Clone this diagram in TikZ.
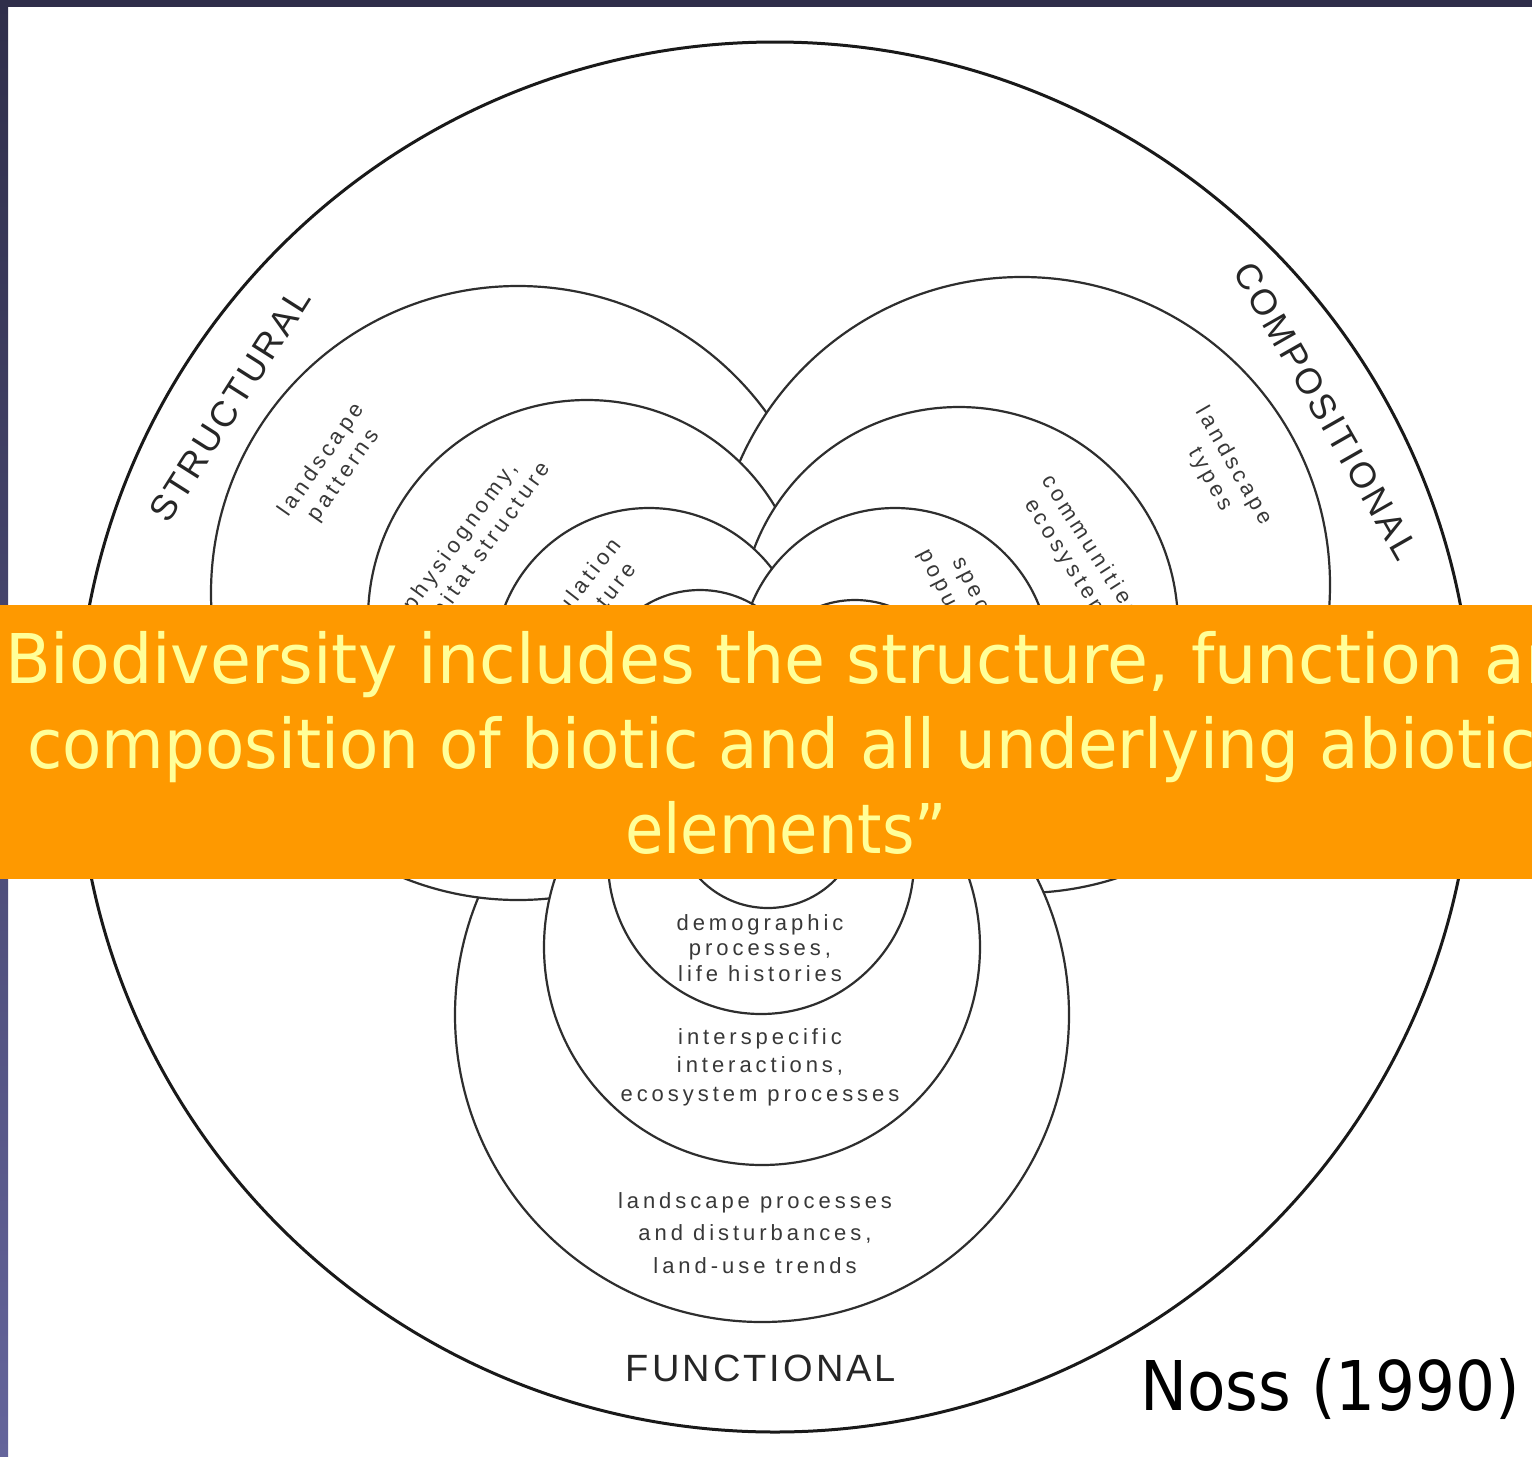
\documentclass[tikz,border=0pt]{standalone}
\usepackage{graphicx}
\usepackage{fontspec}
\setmainfont{Liberation Sans}
\newfontfamily\bannerfont{DejaVu Sans}
\newfontfamily\ringfont[LetterSpace=8]{Liberation Sans}
\newfontfamily\smallfont[LetterSpace=18]{Liberation Sans}
\newfontfamily\nossfont{DejaVu Sans}
\definecolor{band}{RGB}{47,46,74}
\definecolor{bandlight}{RGB}{100,100,155}
\definecolor{bannerorange}{RGB}{254,153,0}
\definecolor{banneryellow}{RGB}{255,255,153}
\newcommand{\outsidecirc}[2]{\clip (-300,-300) rectangle (1900,1800) (#1) circle[radius=#2];}
\begin{document}
\begin{tikzpicture}[x=1pt,y=-1pt,
  ring/.style={line width=2.2pt, draw=black!82},
  outerring/.style={line width=3pt, draw=black!90},
  lab/.style={font={\ringfont\fontsize{#1}{40}\selectfont}, text=black!85, inner sep=0},
  lab/.default=36,
  small/.style={font={\smallfont\fontsize{22}{#1}\selectfont}, text=black!78, align=center, inner sep=0},
  small/.default=27,
  bannertext/.style={font={\bannerfont\fontsize{68.6}{80}\selectfont}, text=banneryellow, anchor=base west, inner sep=0},
]
\useasboundingbox (0,0) rectangle (1532,1457);
\fill[white] (0,0) rectangle (1532,1457);

% circle centres
\coordinate (O) at (775,737);
\coordinate (S1) at (518,593);
\coordinate (S2) at (587,619);
\coordinate (S3) at (649,663);
\coordinate (S4) at (700,695);
\coordinate (C1) at (1022,585);
\coordinate (C2) at (959,626);
\coordinate (C3) at (895,663);
\coordinate (C4) at (855,700);
\coordinate (F1) at (762,1015);
\coordinate (F2) at (762,947);
\coordinate (F3) at (761,861);
\coordinate (F4) at (768,814);

% structural circles
\begin{scope}[even odd rule]\outsidecirc{C1}{308}\outsidecirc{F2}{218}\draw[ring] (S1) circle[radius=307];\end{scope}
\begin{scope}[even odd rule]\outsidecirc{C2}{219}\outsidecirc{F3}{153}\draw[ring] (S2) circle[radius=219];\end{scope}
\begin{scope}[even odd rule]\outsidecirc{C3}{155}\outsidecirc{F4}{94}\draw[ring] (S3) circle[radius=155];\end{scope}
\begin{scope}[even odd rule]\outsidecirc{C4}{100}\draw[ring] (S4) circle[radius=105];\end{scope}
% compositional circles
\begin{scope}[even odd rule]\outsidecirc{F1}{307}\outsidecirc{S2}{219}\draw[ring] (C1) circle[radius=308];\end{scope}
\begin{scope}[even odd rule]\outsidecirc{F2}{218}\outsidecirc{S3}{155}\draw[ring] (C2) circle[radius=219];\end{scope}
\begin{scope}[even odd rule]\outsidecirc{F3}{153}\outsidecirc{S4}{105}\draw[ring] (C3) circle[radius=155];\end{scope}
\begin{scope}[even odd rule]\outsidecirc{F4}{94}\draw[ring] (C4) circle[radius=100];\end{scope}
% functional circles
\begin{scope}[even odd rule]\outsidecirc{S1}{307}\outsidecirc{C2}{219}\draw[ring] (F1) circle[radius=307];\end{scope}
\begin{scope}[even odd rule]\outsidecirc{S2}{219}\outsidecirc{C3}{155}\draw[ring] (F2) circle[radius=218];\end{scope}
\begin{scope}[even odd rule]\outsidecirc{S3}{155}\outsidecirc{C4}{100}\draw[ring] (F3) circle[radius=153];\end{scope}
\begin{scope}[even odd rule]\outsidecirc{S4}{105}\draw[ring] (F4) circle[radius=94];\end{scope}

% outer circle
\draw[outerring] (O) ellipse[x radius=698, y radius=695];

% ring labels
\node[lab, rotate=57.6] (structural) at (230,405) {STRUCTURAL};
\node[lab, rotate=-60.3] (compositional) at (1326,411) {COMPOSITIONAL};
\node[lab=38] (functional) at (761,1368) {FUNCTIONAL};

% inner labels
\node[small, rotate=55] (lpat) at (333,468) {landscape\\patterns};
\node[small, rotate=54] (phys) at (470,544) {physiognomy,\\habitat structure};
\node[small, rotate=52] (popst) at (584,603) {population\\structure};
\node[small, rotate=-60] (ltyp) at (1222,473) {landscape\\types};
\node[small, rotate=-57.5] (comm) at (1081,558) {communities,\\ecosystems};
\node[small, rotate=-63] (spec) at (970,613) {species,\\populations};
\node[small=25.5] (demo) at (760,948) {demographic\\processes,\\life histories};
\node[small=28.5] (inter) at (760,1067) {interspecific\\interactions,\\ecosystem processes};
\node[small=32.5] (lproc) at (755,1233) {landscape processes\\and disturbances,\\land-use trends};

% slide frame
\fill[band] (0,0) rectangle (1532,7);
\shade[top color=band, bottom color=bandlight] (0,0) rectangle (8,1457);

% banner
\fill[bannerorange] (0,605) rectangle (1532,879);
\begin{scope}
\clip (0,605) rectangle (1532,879);
\node[bannertext] (line1) at (5,683) {\scalebox{0.971}[1]{\llap{“}Biodiversity includes the structure, function and}};
\node[bannertext] (line2) at (27,768) {\scalebox{0.937}[1]{composition of biotic and all underlying abiotic}};
\node[bannertext] (line3) at (625,853) {\scalebox{0.909}[1]{elements”}};
\end{scope}

% citation
\node[anchor=base west, inner sep=0, font={\nossfont\fontsize{68.6}{80}\selectfont}] (noss) at (1140,1410) {\scalebox{0.917}[1]{Noss (1990)}};
\end{tikzpicture}
\end{document}
